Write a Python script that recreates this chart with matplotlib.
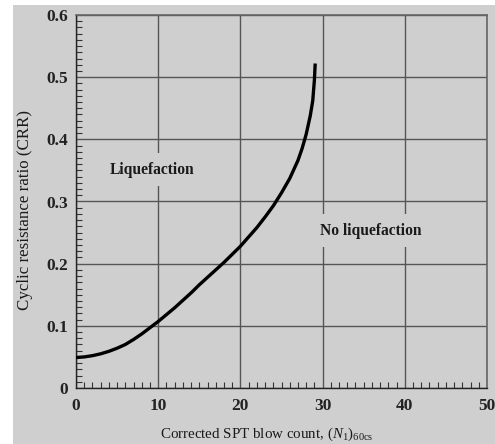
import matplotlib
matplotlib.use('Agg')
import matplotlib.pyplot as plt
from matplotlib.patches import Rectangle
from matplotlib.ticker import MultipleLocator

# CRR boundary curve, clean sand
n1_60cs = [0, 1, 2, 3, 4, 5, 6, 7, 8, 9, 10, 11, 12, 13, 14, 15, 16, 17, 18,
           19, 20, 21, 22, 23, 24, 25, 26, 27, 27.5, 28, 28.5, 28.8, 29.0, 29.1]
crr = [0.049, 0.050, 0.052, 0.055, 0.059, 0.064, 0.070, 0.078, 0.087, 0.097,
       0.107, 0.118, 0.129, 0.141, 0.153, 0.166, 0.178, 0.190, 0.202, 0.215,
       0.228, 0.243, 0.258, 0.275, 0.293, 0.314, 0.337, 0.366, 0.385, 0.408,
       0.438, 0.462, 0.495, 0.522]

xticks = [0, 10, 20, 30, 40, 50]
yticks = [0, 0.1, 0.2, 0.3, 0.4, 0.5, 0.6]
ytick_labels = ['0', '0.1', '0.2', '0.3', '0.4', '0.5', '0.6']

plt.rcParams['font.family'] = ['Liberation Serif', 'DejaVu Serif']
plt.rcParams['mathtext.fontset'] = 'custom'
plt.rcParams['mathtext.rm'] = 'Liberation Serif'
plt.rcParams['mathtext.it'] = 'Liberation Serif:italic'
bg = '#cfcfcf'

W, H = 495, 444
fig = plt.figure(figsize=(W / 100, H / 100), dpi=100, facecolor='white')
# grey panel behind everything, white strip on top and left
fig.patches.append(Rectangle((13 / W, 0), 1, 1 - 5 / H, transform=fig.transFigure,
                             facecolor=bg, edgecolor='none', zorder=-10))

ax = fig.add_axes([76 / W, 1 - 388 / H, (487 - 76) / W, (388 - 15) / H])
ax.set_facecolor(bg)
ax.set_xlim(0, 50)
ax.set_ylim(0, 0.6)

ax.set_xticks(xticks)
ax.set_yticks(yticks)
ax.set_yticklabels(ytick_labels)
ax.xaxis.set_minor_locator(MultipleLocator(1))
ax.yaxis.set_minor_locator(MultipleLocator(0.01))
ax.tick_params(which='major', direction='in', length=0, labelsize=12.5)
ax.tick_params(axis='x', which='major', pad=7)
ax.tick_params(axis='y', which='major', pad=6)
ax.tick_params(which='minor', direction='in', length=4, width=0.8, color='#333333')
ax.tick_params(top=False, right=False, which='both')
for lbl in ax.get_xticklabels() + ax.get_yticklabels():
    lbl.set_fontweight('bold')
    lbl.set_color('#222222')

ax.grid(True, which='major', color='#555555', linewidth=1.0)
ax.set_axisbelow(True)
for side in ['top', 'right']:
    ax.spines[side].set_color('#666666')
    ax.spines[side].set_linewidth(1.2)
for side in ['left', 'bottom']:
    ax.spines[side].set_color('#222222')
    ax.spines[side].set_linewidth(1.0)

ax.plot(n1_60cs, crr, color='black', linewidth=2.4, solid_capstyle='butt', zorder=3)

txt_box = dict(facecolor=bg, edgecolor='none', pad=6)
ax.text(9.3, 0.351, 'Liquefaction', fontsize=11.2, fontweight='bold', color='#1a1a1a',
        ha='center', va='center', bbox=txt_box, zorder=2)
ax.text(35.8, 0.253, 'No liquefaction', fontsize=11.2, fontweight='bold', color='#1a1a1a',
        ha='center', va='center', bbox=txt_box, zorder=2)

ax.set_xlabel(r'Corrected SPT blow count, $(N_1)_{\rm 60cs}$', fontsize=10.8, color='#1a1a1a')
ax.set_ylabel('Cyclic resistance ratio (CRR)', fontsize=12.2, color='#1a1a1a')
ax.xaxis.set_label_coords(0.465, -0.102)
ax.yaxis.set_label_coords(-0.105, 0.477)

fig.savefig('out.png', dpi=100, facecolor='white')
